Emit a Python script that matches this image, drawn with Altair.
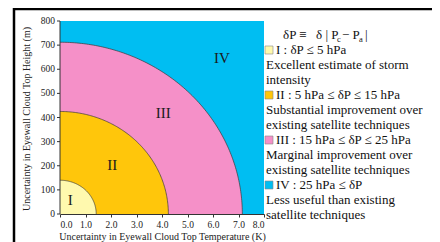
import altair as alt
import numpy as np
import pandas as pd

# ---------------- data ----------------
region_names = ["I", "II", "III", "IV"]
radius_temp = [1.42, 4.25, 7.15]        # K   (x semi-axis of regions I, II, III)
radius_height = [140, 425, 712]         # m   (y semi-axis of regions I, II, III)
region_colors = ["#FFF9AE", "#FFC60B", "#F590C8", "#00BEF2"]
label_temp = [0.4, 2.05, 4.05, 6.35]
label_height = [58, 205, 420, 645]
x_max = 8.0
y_max = 800
x_ticks = [0, 1, 2, 3, 4, 5, 6, 7, 8]
y_ticks = [0, 100, 200, 300, 400, 500, 600, 700, 800]
x_title = "Uncertainty in Eyewall Cloud Top Temperature (K)"
y_title = "Uncertainty in Eyewall Cloud Top Height (m)"

legend_entries = [
    ("I : δP ≤ 5 hPa", ["Excellent estimate of storm", "intensity"]),
    ("II : 5 hPa ≤ δP ≤ 15 hPa", ["Substantial improvement over", "existing satellite techniques"]),
    ("III : 15 hPa ≤ δP ≤ 25 hPa", ["Marginal improvement over", "existing satellite techniques"]),
    ("IV : 25 hPa ≤ δP", ["Less useful than existing", "satellite techniques"]),
]

FONT = "Liberation Serif"
AX = "#333"
W, H = 204, 193
OX, OY = 60, 21          # page position of plot origin
xs = alt.Scale(domain=[0, x_max], nice=False, zero=True)
ys = alt.Scale(domain=[0, y_max], nice=False, zero=True)
x_axis = alt.Axis(values=x_ticks, format=".1f", labelOverlap=False, title=x_title)

def X(f):
    return alt.X(f, scale=xs, axis=x_axis)

def Y(f):
    return alt.Y(f, scale=ys, axis=None)

one = pd.DataFrame({"k": [0]})
layers = []

# region IV background
bg = pd.DataFrame({"x0": [0.0], "x1": [x_max], "y0": [0], "y1": [y_max]})
layers.append(
    alt.Chart(bg).mark_rect(color=region_colors[3]).encode(
        x=X("x0:Q"), x2="x1:Q", y=Y("y0:Q"), y2="y1:Q",
    )
)

# quarter ellipses III, II, I (largest first)
t = np.linspace(0, np.pi / 2, 121)
for i in [2, 1, 0]:
    df = pd.DataFrame({
        "idx": np.arange(len(t)),
        "x": radius_temp[i] * np.cos(t),
        "y": radius_height[i] * np.sin(t),
        "base": 0.0,
    })
    layers.append(
        alt.Chart(df).mark_area(color=region_colors[i], opacity=1).encode(
            x=X("x:Q"), y=Y("y:Q"), y2="base:Q",
        )
    )
    layers.append(
        alt.Chart(df).mark_line(color="#3a3a3a", strokeWidth=0.7).encode(
            x=X("x:Q"), y=Y("y:Q"), order="idx:Q",
        )
    )

labels = pd.DataFrame({"x": label_temp, "y": label_height, "t": region_names})
layers.append(
    alt.Chart(labels).mark_text(font=FONT, fontSize=15, color="#1a1a1a").encode(
        x=X("x:Q"), y=Y("y:Q"), text="t:N"
    )
)

# ---------------- y axis (drawn through the y scale) ----------------
yt = pd.DataFrame({"v": y_ticks})
layers.append(
    alt.Chart(one).mark_rule(color=AX, strokeWidth=1).encode(
        x=alt.value(0), y=alt.value(0), y2=alt.value(H)
    )
)
layers.append(
    alt.Chart(yt).mark_rule(color=AX, strokeWidth=1).encode(
        x=alt.value(-3), x2=alt.value(0), y=Y("v:Q")
    )
)
layers.append(
    alt.Chart(yt).mark_text(align="right", baseline="middle", dx=-5, font=FONT,
                            fontSize=9.5, color="#222").encode(
        x=alt.value(0), y=Y("v:Q"), text="v:Q"
    )
)
layers.append(
    alt.Chart(one).mark_text(text=y_title, angle=270, align="center", baseline="middle",
                             font=FONT, fontSize=10, color="#222").encode(
        x=alt.value(27 - OX), y=alt.value(98)
    )
)

# ---------------- legend (pixel positions relative to plot origin) ----------------
line0, step = 35, 15.0
fs = 13

def txt(s, px, py, size=fs):
    return alt.Chart(one).mark_text(
        text=s, align="left", baseline="middle", font=FONT, fontSize=size, color="#111"
    ).encode(x=alt.value(px - OX), y=alt.value(py - OY))

# header line: δP ≡ δ | Pc − Pa |
layers.append(txt("δP ≡", 283, line0))
layers.append(txt("δ | P", 316, line0))
layers.append(txt("c", 337, line0 + 3.5, 8.5))
layers.append(txt("− P", 342, line0))
layers.append(txt("a", 359, line0 + 3.5, 8.5))
layers.append(txt("|", 365, line0))

row = 1
for k, (head, desc) in enumerate(legend_entries):
    cy = line0 + step * row
    layers.append(
        alt.Chart(one).mark_rect(fill=region_colors[k], stroke="#888", strokeWidth=0.6).encode(
            x=alt.value(265 - OX), x2=alt.value(273 - OX),
            y=alt.value(cy - 4 - OY), y2=alt.value(cy + 4 - OY),
        )
    )
    layers.append(txt(head, 276, cy))
    row += 1
    for d in desc:
        layers.append(txt(d, 266, line0 + step * row))
        row += 1

# frame lines
layers.append(
    alt.Chart(one).mark_rule(color="black", strokeWidth=2.5).encode(
        x=alt.value(13 - OX), x2=alt.value(440 - OX), y=alt.value(9 - OY)
    )
)
layers.append(
    alt.Chart(one).mark_rule(color="black", strokeWidth=2.5).encode(
        x=alt.value(14 - OX), y=alt.value(8 - OY), y2=alt.value(242 - OY)
    )
)

chart = alt.layer(*layers).properties(
    width=W, height=H,
    autosize=alt.AutoSizeParams(type="none"),
    padding={"left": 52, "top": 13, "right": 168, "bottom": 28},
).configure_view(stroke=None).configure_axis(
    grid=False, labelOverlap=False,
    labelFont=FONT, labelFontSize=9.5, labelColor="#222",
    titleFont=FONT, titleFontSize=10, titleFontWeight="normal", titleColor="#222",
    domainColor=AX, tickColor=AX, tickSize=3, labelPadding=2,
).configure_axisX(titlePadding=3)

chart.save("out.html", embed_options={"renderer": "svg", "actions": False})
